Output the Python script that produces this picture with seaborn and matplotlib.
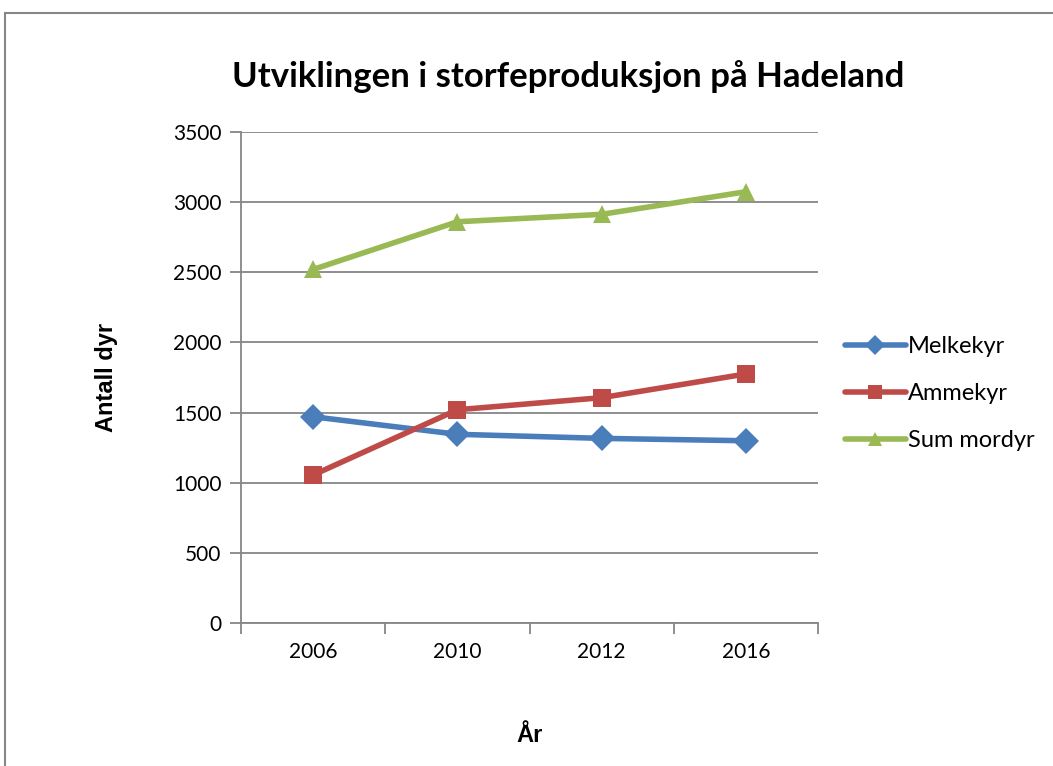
import pandas as pd
import matplotlib.pyplot as plt
import matplotlib.patches as patches
import seaborn as sns

# Data
years = ['2006', '2010', '2012', '2016']
melkekyr = [1470, 1345, 1316, 1299]
ammekyr = [1055, 1520, 1606, 1775]
sum_mordyr = [2520, 2860, 2913, 3074]
series = ['Melkekyr', 'Ammekyr', 'Sum mordyr']
colors = ['#4A7EBB', '#BE4B48', '#98B954']

df = pd.DataFrame({
    'År': years * 3,
    'Antall dyr': melkekyr + ammekyr + sum_mordyr,
    'Serie': [s for s in series for _ in years],
})

sns.set_style('white')
plt.rcParams['font.family'] = ['Lato', 'DejaVu Sans']
plt.rcParams['text.color'] = 'black'
plt.rcParams['xtick.color'] = 'black'
plt.rcParams['ytick.color'] = 'black'
plt.rcParams['axes.labelcolor'] = 'black'

fig = plt.figure(figsize=(10.53, 7.66), dpi=100)
ax = fig.add_axes([0.2289, 0.1867, 0.5479, 0.641])

sns.lineplot(data=df, x='År', y='Antall dyr', hue='Serie', style='Serie',
             palette=colors, markers=['D', 's', '^'], dashes=False,
             sort=False, linewidth=4, markersize=13, markeredgewidth=0,
             ax=ax)

# y-akse
ax.set_ylim(0, 3500)
ax.set_yticks(range(0, 3501, 500))
ax.yaxis.grid(True, color='#868686', linewidth=1.3)
ax.set_axisbelow(True)

# x-akse: tick-merker mellom kategoriene, etiketter i midten
ax.set_xlim(-0.5, 3.5)
ax.set_xticks([-0.5, 0.5, 1.5, 2.5, 3.5], labels=[''] * 5)
ax.set_xticks(range(4), labels=years, minor=True)
ax.tick_params(axis='x', which='major', length=8, width=1.3, color='#868686',
               direction='out', bottom=True)
ax.tick_params(axis='x', which='minor', length=0, pad=14, labelsize=15)
ax.tick_params(axis='y', length=8, width=1.3, color='#868686',
               direction='out', left=True, labelsize=15, pad=6)

for side in ['top', 'right']:
    ax.spines[side].set_visible(False)
for side in ['left', 'bottom']:
    ax.spines[side].set_color('#868686')
    ax.spines[side].set_linewidth(1.3)

fig.suptitle('Utviklingen i storfeproduksjon på Hadeland', x=0.54, y=0.9,
             fontsize=25, fontweight='bold', va='center')
ax.set_xlabel('År', fontsize=17, fontweight='bold', labelpad=44,
              family=['Liberation Sans', 'DejaVu Sans'])
ax.set_ylabel('Antall dyr', fontsize=17, fontweight='bold', labelpad=40,
              family=['Liberation Sans', 'DejaVu Sans'])

ax.legend(loc='center left', bbox_to_anchor=(0.802, 0.486),
          bbox_transform=fig.transFigure, frameon=False, fontsize=17,
          borderpad=0, borderaxespad=0, handlelength=2.6, handletextpad=0.1,
          labelspacing=1.1, markerscale=0.8)

# ramme rundt hele diagrammet
fig.patches.append(patches.Rectangle((0.0047, -0.1), 1.2, 1.083,
                                     transform=fig.transFigure, fill=False,
                                     edgecolor='#868686', linewidth=1.5))

fig.savefig('out.png', dpi=100)
